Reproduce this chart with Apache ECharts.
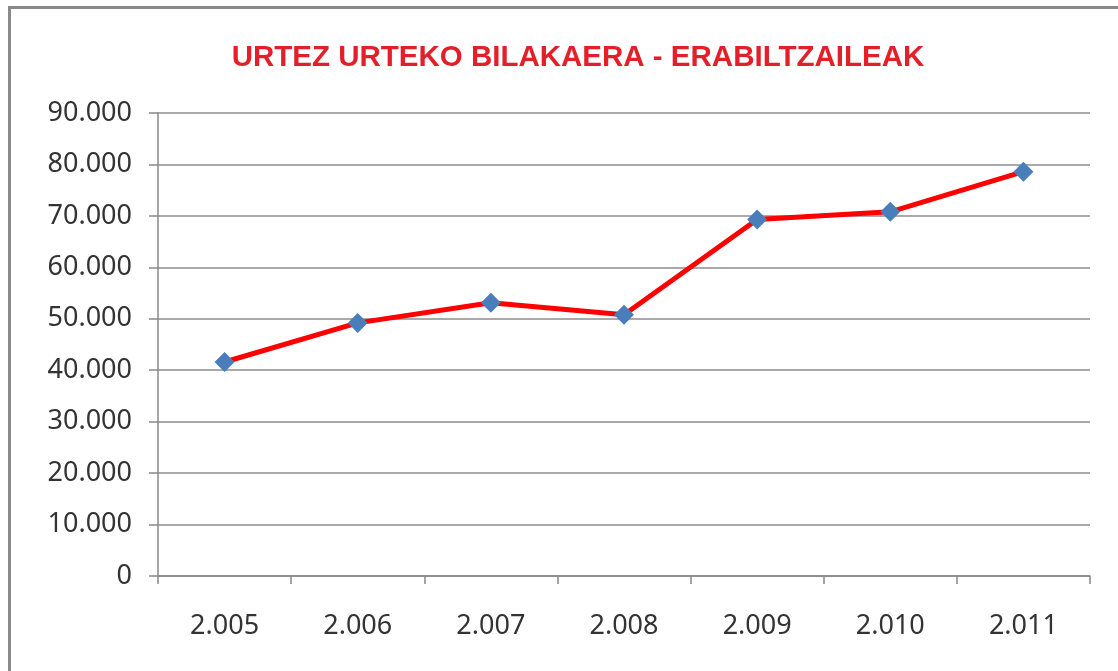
<!DOCTYPE html>
<html>
<head>
<meta charset="utf-8">
<script src="https://cdn.jsdelivr.net/npm/echarts@6/dist/echarts.min.js"></script>
<style>
  html, body { margin: 0; padding: 0; background: #fff; }
  #frame {
    position: absolute; left: 8px; top: 6px; width: 1120px; height: 680px;
    border-left: 3px solid #8a8a8a; border-top: 3px solid #8a8a8a;
    box-sizing: border-box;
  }
  #chart { position: absolute; left: 0; top: 0; width: 1118px; height: 671px; }
</style>
</head>
<body>
<div id="frame"></div>
<div id="chart"></div>
<script>
// urteak eta erabiltzaileak
const years = ["2.005", "2.006", "2.007", "2.008", "2.009", "2.010", "2.011"];
const users = [41600, 49200, 53100, 50800, 69300, 70800, 78600];
const titleText = "URTEZ URTEKO BILAKAERA - ERABILTZAILEAK";

const chart = echarts.init(document.getElementById("chart"));
chart.setOption({
  animation: false,
  title: {
    text: titleText,
    left: 573,
    textAlign: "center",
    top: 38,
    textStyle: { color: "#e3202a", fontSize: 29.5, fontWeight: "bold", fontFamily: "Liberation Sans" }
  },
  grid: { left: 158, right: 28, top: 113, bottom: 95 },
  xAxis: {
    type: "category",
    data: years,
    boundaryGap: true,
    axisLine: { lineStyle: { color: "#888", width: 1.5 } },
    axisTick: { show: true, length: 8, lineStyle: { color: "#888", width: 1.5 } },
    axisLabel: { color: "#333", fontSize: 27, fontFamily: "Noto Sans", margin: 37 }
  },
  yAxis: {
    type: "value",
    min: 0,
    max: 90000,
    interval: 10000,
    axisLine: { show: true, lineStyle: { color: "#888", width: 1.5 } },
    axisTick: { show: true, length: 9, lineStyle: { color: "#888", width: 1.5 } },
    splitLine: { lineStyle: { color: "#8c8c8c", width: 1.5 } },
    axisLabel: {
      color: "#333", fontSize: 27, fontFamily: "Noto Sans", margin: 26,
      formatter: v => v === 0 ? "0" : (v / 1000) + ".000"
    }
  },
  series: [{
    type: "line",
    data: users,
    symbol: "diamond",
    symbolSize: 20,
    itemStyle: { color: "#4a7ebb" },
    lineStyle: { color: "#ff0000", width: 5 }
  }]
});
</script>
</body>
</html>
